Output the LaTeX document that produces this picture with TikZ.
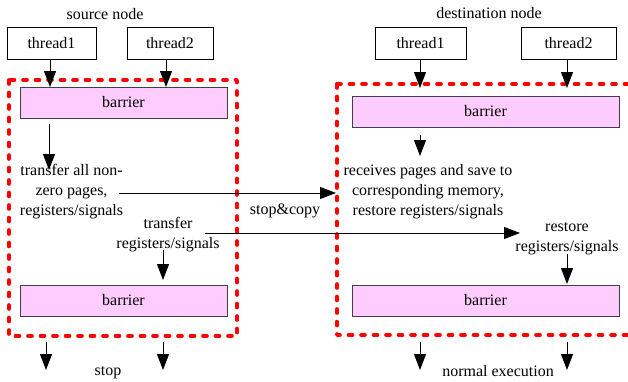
\documentclass[tikz,border=0pt]{standalone}
\usepackage{fontspec}
\setmainfont{Liberation Serif}
\usetikzlibrary{arrows.meta}
\definecolor{barfill}{HTML}{FFCCFF}
\begin{document}
\begin{tikzpicture}[x=1pt,y=-1pt,
  every node/.style={font=\fontsize{16}{20}\selectfont},
  thbox/.style={draw=black,line width=0.9pt,minimum width=#1,minimum height=32pt,inner sep=0pt},
  barbox/.style={draw=black!75,fill=barfill,line width=0.9pt,minimum width=#1,minimum height=31pt,inner sep=0pt},
  txt/.style={align=center,inner sep=0pt},
  arr/.style={line width=1pt,-{Triangle[length=16pt,width=12pt]}},
  redbox/.style={draw=red,line width=3.6pt,dash pattern=on 4pt off 8.5pt,line cap=round,line join=round}]
\useasboundingbox (0,0) rectangle (628,381);
% dashed boxes
\draw[redbox] (9,80) rectangle (237,336);
\draw[redbox] (337,84) -- (337,335) -- (640,335);
\draw[redbox] (337,84) -- (640,84);
% labels
\node[txt] (srcl) at (105,14) {source node};
\node[txt] (dstl) at (489,13) {destination node};
% source
\node[thbox=89pt] (st1) at (51.5,43) {thread1};
\node[thbox=86pt] (st2) at (170,43) {thread2};
\node[barbox=207pt] (sb1) at (123.5,102.5) {barrier};
\node[barbox=207pt] (sb2) at (123.5,300.5) {barrier};
\node[txt] (stx1) at (71.5,192) {transfer all non-\\zero pages,\\registers/signals};
\node[txt] (stx2) at (168,235) {transfer\\registers/signals};
\node[txt] (stop) at (108,373) {stop};
% destination
\node[thbox=91pt] (dt1) at (420.5,43) {thread1};
\node[thbox=95pt] (dt2) at (568.5,43) {thread2};
\node[barbox=267pt] (db1) at (485.5,111.5) {barrier};
\node[barbox=267pt] (db2) at (485.5,300.5) {barrier};
\node[txt] (dtx1) at (428,192) {receives pages and save to\\corresponding memory,\\restore registers/signals};
\node[txt] (dtx2) at (567,239) {restore\\registers/signals};
\node[txt] (norm) at (498,371) {normal execution};
\node[txt] (sc) at (285,211) {stop\&copy};
% coordinates
\coordinate (a1s) at (50,59); \coordinate (a1e) at (50,87);
\coordinate (a2s) at (166,59); \coordinate (a2e) at (166,87);
\coordinate (a3s) at (49,124); \coordinate (a3e) at (49,170);
\coordinate (c1s) at (119,193); \coordinate (c1e) at (336,193);
\coordinate (c2s) at (205,233); \coordinate (c2e) at (520,233);
\coordinate (a4s) at (163,250); \coordinate (a4e) at (163,280);
\coordinate (b1s) at (46,342); \coordinate (b1e) at (46,370);
\coordinate (b2s) at (163,342); \coordinate (b2e) at (163,370);
\coordinate (d1s) at (420,59); \coordinate (d1e) at (420,88);
\coordinate (d2s) at (567,59); \coordinate (d2e) at (567,88);
\coordinate (d3s) at (420,135); \coordinate (d3e) at (420,156);
\coordinate (d4s) at (567,254); \coordinate (d4e) at (567,284);
\coordinate (e1s) at (420,342); \coordinate (e1e) at (420,370);
\coordinate (e2s) at (567,342); \coordinate (e2e) at (567,370);
\foreach \p in {a1,a2,a3,c1,c2,a4,b1,b2,d1,d2,d3,d4,e1,e2}
  \draw[arr] (\p s) -- (\p e);
\end{tikzpicture}
\end{document}
